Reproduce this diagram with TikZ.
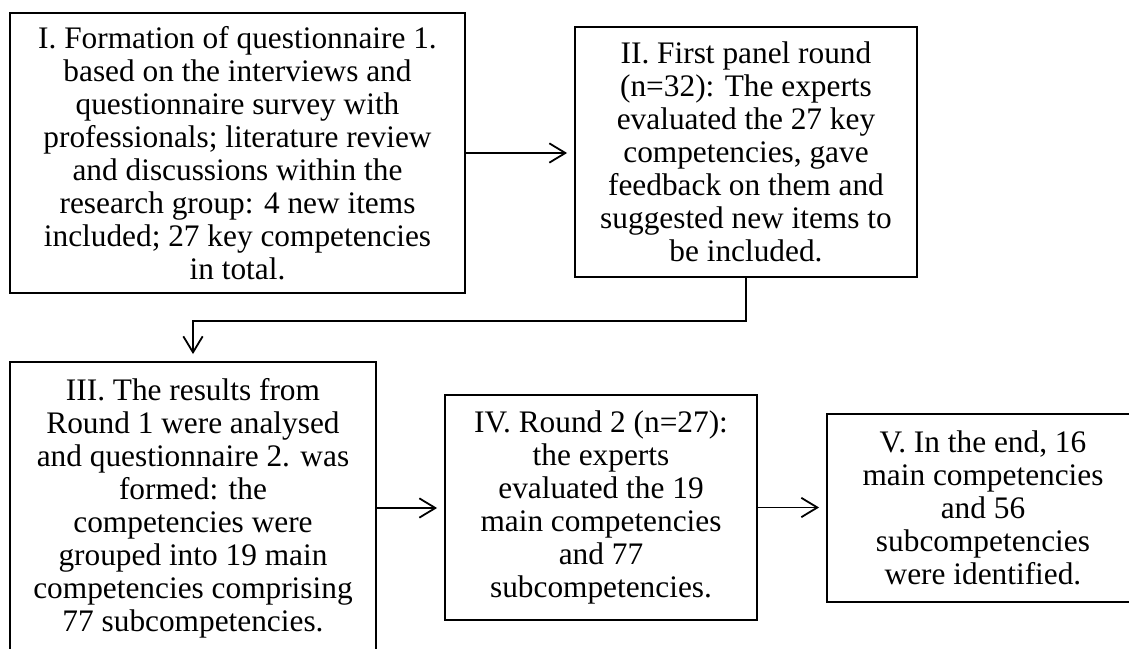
\documentclass[tikz,border=0pt]{standalone}
\usepackage{fontspec}
\setmainfont{Liberation Serif}
\usetikzlibrary{arrows.meta}
\begin{document}
\begin{tikzpicture}[x=0.75pt,y=-0.75pt,
  stage/.style={draw, line width=1.9pt, align=center, inner sep=0pt,
    font=\fontsize{23.5}{24.75}\selectfont},
  flow/.style={line width=1.35pt,
    -{Straight Barb[length=12pt,width=14.5pt,line width=1.35pt]},
    shorten >=5pt}]
\useasboundingbox (0,0) rectangle (1129,649);
\clip (0,0) rectangle (1129,649);

% stages of the Delphi process
\node[stage, minimum width=455*0.75pt, minimum height=280*0.75pt] (I) at (237.5,153)
  {I. Formation of questionnaire 1.\\ based on the interviews and\\ questionnaire survey with\\
   professionals; literature review\\ and discussions within the\\ research group: 4 new items\\
   included; 27 key competencies\\ in total.};
\node[stage, minimum width=342*0.75pt, minimum height=250*0.75pt] (II) at (746,152)
  {II. First panel round\\ (n=32): The experts\\ evaluated the 27 key\\ competencies, gave\\
   feedback on them and\\ suggested new items to\\ be included.};
\node[stage, minimum width=366*0.75pt, minimum height=292*0.75pt] (III) at (193,508)
  {III. The results from\\ Round 1 were analysed\\ and questionnaire 2. was\\ formed: the\\
   competencies were\\ grouped into 19 main\\ competencies comprising\\ 77 subcompetencies.};
\node[stage, minimum width=312*0.75pt, minimum height=225*0.75pt] (IV) at (601,507.5)
  {IV. Round 2 (n=27):\\ the experts\\ evaluated the 19\\ main competencies\\ and 77\\ subcompetencies.};
\node[stage, minimum width=312*0.75pt, minimum height=188*0.75pt] (V) at (983,508)
  {V. In the end, 16\\ main competencies\\ and 56\\ subcompetencies\\ were identified.};

% connectors
\coordinate (turn) at (193,321);
\draw[flow] (I.east) -- (I.east -| II.west);
\draw[flow] (II.south) |- (turn) -- (III.north);
\draw[flow] (III.east) -- (III.east -| IV.west);
\draw[flow] (IV.east) -- (IV.east -| V.west);
\end{tikzpicture}
\end{document}
